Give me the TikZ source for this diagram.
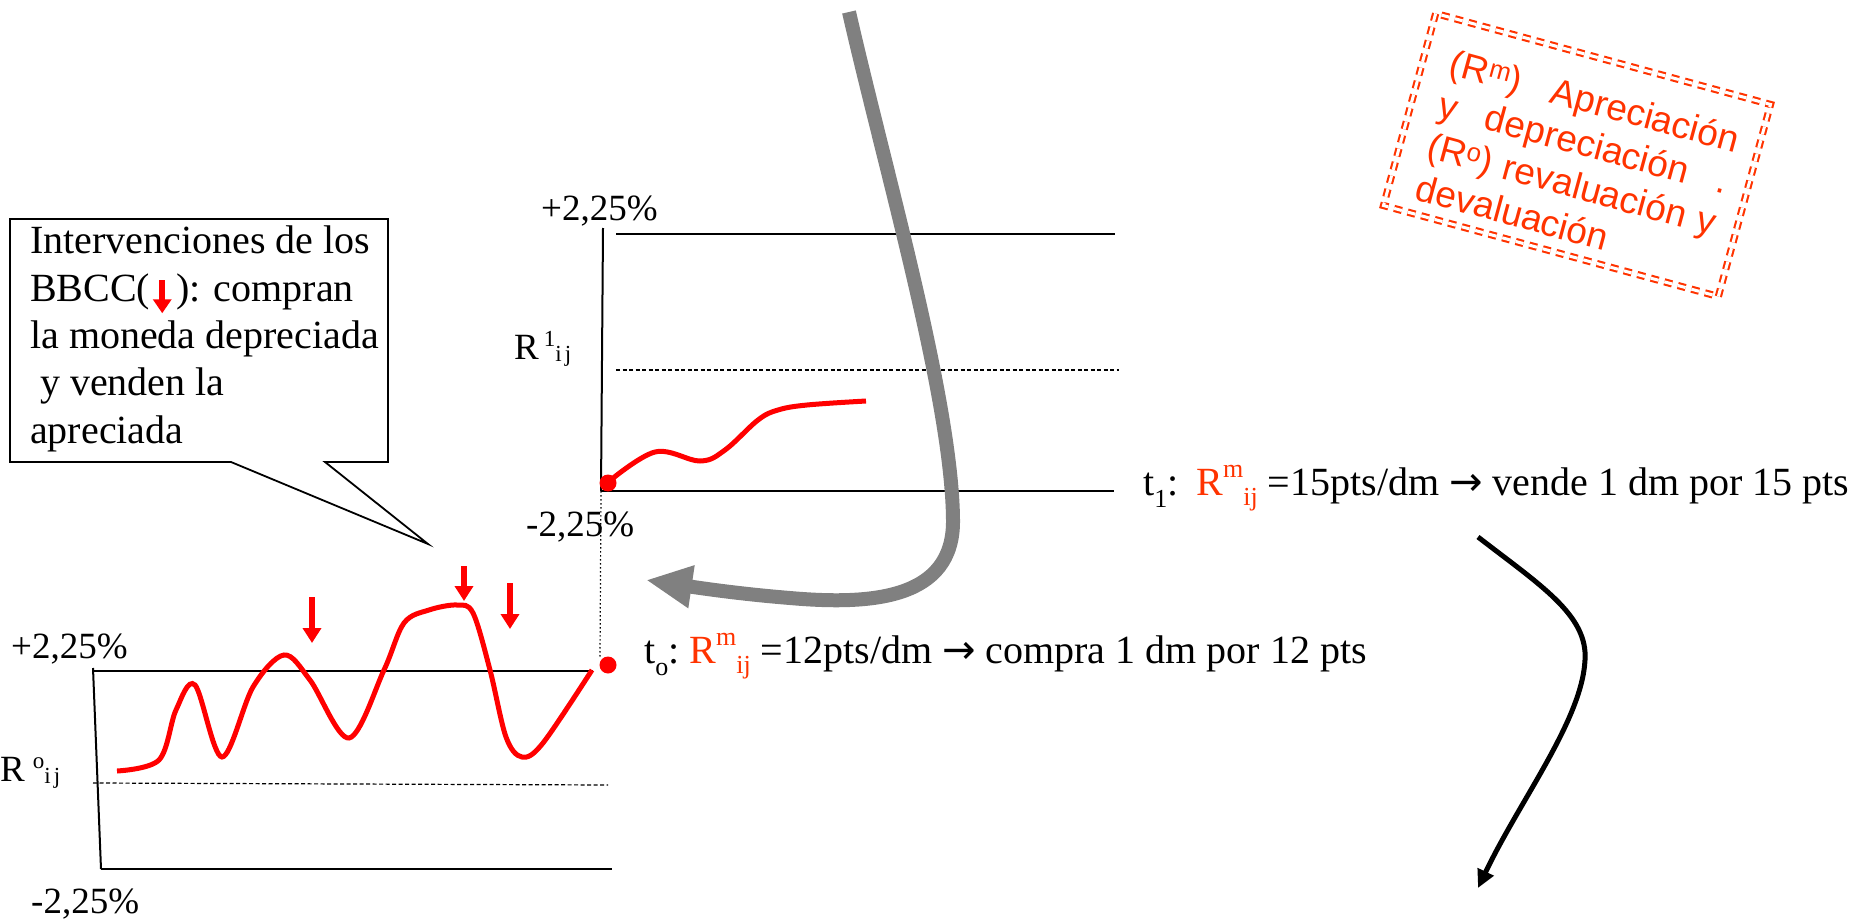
\documentclass[tikz,border=0pt]{standalone}
\usepackage{fontspec}
\setmainfont{Liberation Serif}
\newfontfamily\stampfont{Liberation Sans}
\newfontfamily\symfont{DejaVu Sans}
\usetikzlibrary{arrows.meta}
\definecolor{redc}{HTML}{FF0000}
\definecolor{orred}{HTML}{FF3300}
\definecolor{greyc}{HTML}{808080}
\newcommand{\scr}[1]{{\fontsize{26}{26}\selectfont #1}}
\newcommand{\smallscr}[1]{{\fontsize{23}{23}\selectfont #1}}
\newcommand{\myarrow}{{\symfont →}}
\begin{document}
\begin{tikzpicture}[x=1pt,y=-1pt,
  axisline/.style={black,line width=2pt},
  rline/.style={black,line width=1.2pt,dash pattern=on 4pt off 2.5pt},
  dotline/.style={black,line width=1.2pt,dash pattern=on 1.5pt off 2.5pt},
  redcurve/.style={redc,line width=5pt},
  intarrow/.style={redc,line width=6pt,-{Triangle[length=15pt,width=18pt]}},
  lbl/.style={anchor=base west,inner sep=0pt,font=\fontsize{37}{44}\selectfont},
  txt/.style={anchor=base west,inner sep=0pt,font=\fontsize{40}{47}\selectfont},
  dot/.style={circle,fill=redc,inner sep=0pt,minimum size=17pt}]
\useasboundingbox (0,0) rectangle (1876,920);

% ---------- callout ----------
\draw[black,line width=1.8pt,line join=miter] (10,219) -- (388,219) -- (388,462) -- (325,462) -- (428,544) -- (231,462) -- (10,462) -- cycle;
\node[anchor=north west,inner sep=0pt,align=left,font=\fontsize{40}{47.3}\selectfont] (callt) at (30,226)
 {Intervenciones de los\\
  BBCC(\hspace{3pt}\tikz[baseline=0pt]{\path (-9pt,0pt) (9pt,0pt); \draw[redc,line width=5.5pt,-{Triangle[length=14pt,width=18pt]}] (0pt,21pt) -- (0pt,-12pt);}\hspace{5pt}): compran\\
  la moneda depreciada\\
  \hspace{10pt}y venden la\\
  apreciada};

% ---------- top chart ----------
\coordinate (ta) at (603,228);
\coordinate (tb) at (601,491);
\draw[axisline] (ta) -- (tb);
\coordinate (tl1) at (616,234); \coordinate (tr1) at (1115,234);
\draw[axisline] (tl1) -- (tr1);
\coordinate (tr2) at (1114,491);
\draw[axisline] (tb) -- (tr2);
\coordinate (tl3) at (616,370); \coordinate (tr3) at (1119,370);
\draw[rline] (tl3) -- (tr3);
\node[lbl] (tp) at (541,221) {+2,25\%};
\node[lbl] (tm) at (526,536) {-2,25\%};
\node[lbl] (tr) at (514,359) {R\hspace{5pt}\raisebox{13pt}{\smallscr{1}}\raisebox{-2pt}{\smallscr{i\hspace{3pt}j}}};
\draw[redcurve] plot[smooth,tension=0.6] coordinates {(607,483) (655,452) (700,461) (725,450) (758,420) (778,410) (807,405) (866,401)};
\node[dot] (d1) at (608,483) {};

% ---------- bottom chart ----------
\coordinate (ba) at (93,668);
\coordinate (bb) at (101,869);
\draw[axisline] (ba) -- (bb);
\coordinate (br1) at (593,671);
\draw[axisline] (ba |- br1) -- (br1);
\coordinate (br2) at (612,869);
\draw[axisline] (bb) -- (br2);
\coordinate (bl3) at (93,783); \coordinate (br3) at (608,785);
\draw[rline] (bl3) -- (br3);
\node[lbl] (bp) at (11,658) {+2,25\%};
\node[lbl] (bm) at (31,913) {-2,25\%};
\node[lbl] (br) at (0,781) {R\hspace{8pt}\raisebox{13pt}{\smallscr{o}}\raisebox{-2pt}{\smallscr{i\hspace{3pt}j}}};
\draw[redcurve] plot[smooth,tension=0.55] coordinates {(117,771) (159,760) (176,710) (195,685) (222,757) (253,687) (284,655) (310,680) (349,738) (384,670) (404,623) (429,610) (457,605) (473,613) (490,670) (506,737) (522,757) (543,743) (592,670)};
\node[dot] (d0) at (608,665) {};
\draw[dotline] (tb) -- (600,658);

% intervention arrows
\coordinate (a1s) at (312,597); \coordinate (a1e) at (312,643);
\coordinate (a2s) at (464,566); \coordinate (a2e) at (464,601);
\coordinate (a3s) at (510,583); \coordinate (a3e) at (510,629);
\draw[intarrow] (a1s) -- (a1e);
\draw[intarrow] (a2s) -- (a2e);
\draw[intarrow] (a3s) -- (a3e);

% ---------- grey arrow ----------
\coordinate (gs) at (849,12);
\coordinate (ge) at (646,580);
\draw[greyc,line width=14pt,-{Triangle[length=46pt,width=40pt]}] (gs) .. controls (885,170) and (952,400) .. (953,520) .. controls (954,600) and (870,605) .. (790,598) .. controls (740,594) and (700,588) .. (ge);

% ---------- texts ----------
\node[txt] (t0) at (644,663) {t\raisebox{-0.3em}{\scr{o}}:\ \textcolor{orred}{R\raisebox{0.45em}{\scr{m}}\raisebox{-0.25em}{\scr{ij}}} =12pts/dm \myarrow{} compra 1 dm por 12 pts};
\node[txt] (t1) at (1143,495) {t\raisebox{-0.3em}{\scr{1}}:\hspace{18pt}\textcolor{orred}{R\raisebox{0.45em}{\scr{m}}\raisebox{-0.25em}{\scr{ij}}} =15pts/dm \myarrow{} vende 1 dm por 15 pts};

% ---------- black arrow ----------
\coordinate (ks) at (1478,537);
\coordinate (ke) at (1478,888);
\draw[black,line width=5pt,-{Triangle[length=18pt,width=17pt]}] (ks) .. controls (1540,585) and (1588,615) .. (1585,660) .. controls (1582,720) and (1520,800) .. (ke);

% ---------- stamp ----------
\begin{scope}[shift={(1577,155)},rotate=-15.2,transform shape]
\draw[orred,line width=2.1pt,double=white,double distance=3pt,dash pattern=on 8pt off 6pt] (-173.5,-99.5) rectangle (173.5,99.5);
\node[anchor=north west,inner sep=0pt,align=left,text=orred,font=\stampfont\fontsize{37}{43}\selectfont] (stamp) at (-146,-71)
 {\makebox[298pt][l]{(R\textsuperscript{m})\hfill Apreciación}\\
  \makebox[298pt][l]{y\hfill depreciación\hfill .}\\
  \makebox[298pt][l]{(R\textsuperscript{o})\hfill revaluación\hfill y}\\
  devaluación};
\end{scope}
\end{tikzpicture}
\end{document}
